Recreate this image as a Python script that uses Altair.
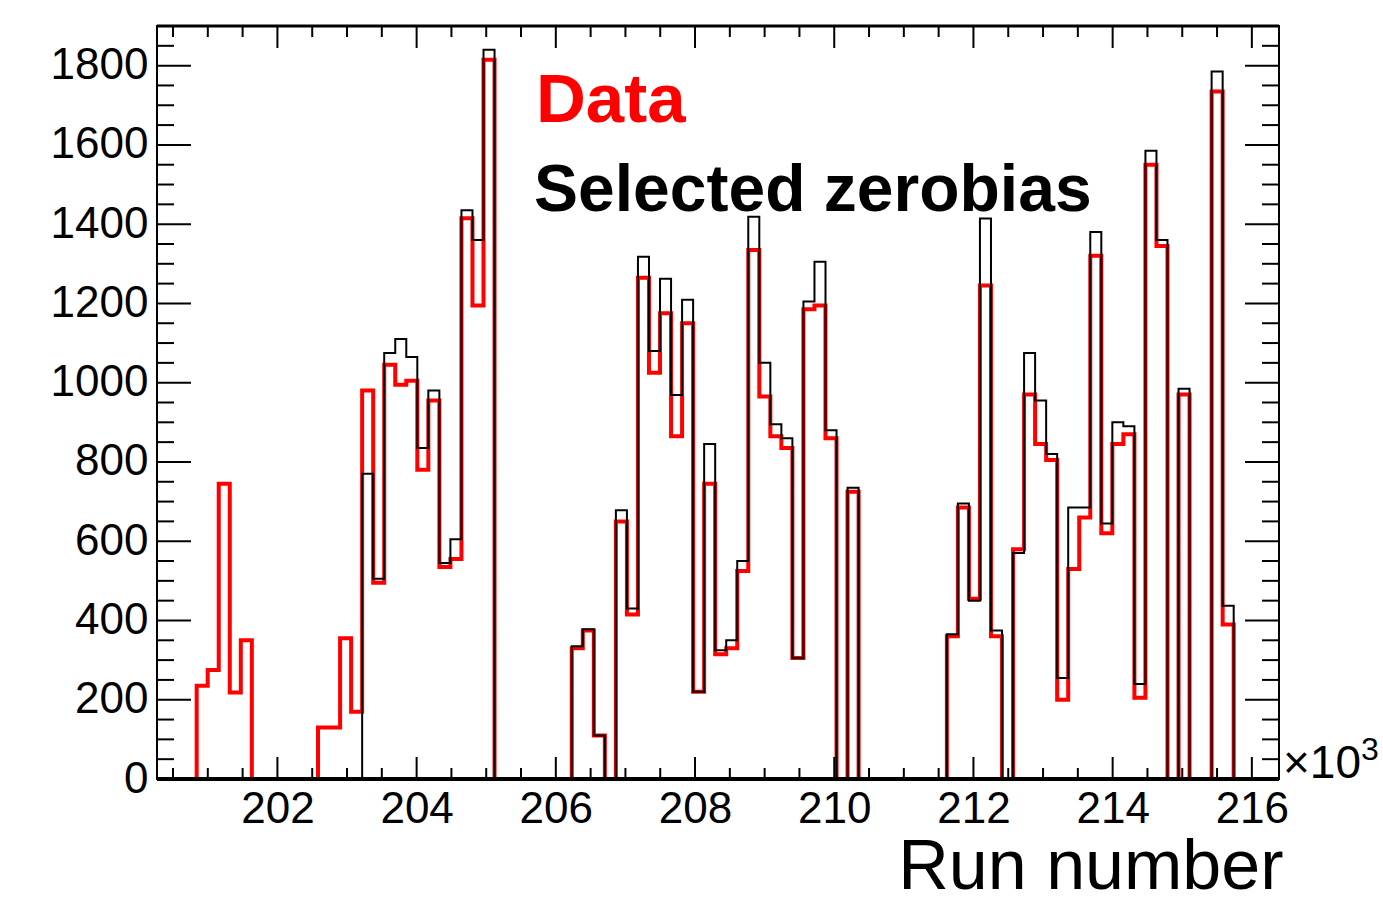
import altair as alt
import pandas as pd

# Histogram binning (run number in units of 10^3)
first_edge = 200.84     # low edge of first filled bin
bin_width = 0.1585
x_lo, x_hi = 200.27, 216.39
y_lo, y_hi = 0, 1900

# "Data" (red) entries per bin
data_counts = [
    235, 275, 745, 218, 350, 0, 0, 0, 0, 0,
    0, 130, 130, 355, 170, 980, 495, 1045, 995, 1005,
    780, 955, 535, 555, 1415, 1195, 1815, 0, 0, 0,
    0, 0, 0, 0, 330, 375, 110, 0, 650, 415,
    1265, 1025, 1175, 865, 1150, 220, 745, 315, 330, 525,
    1335, 965, 865, 835, 305, 1185, 1195, 860, 0, 725,
    0, 0, 0, 0, 0, 0, 0, 0, 360, 685,
    455, 1245, 360, 0, 580, 970, 845, 805, 200, 530,
    660, 1320, 620, 845, 870, 205, 1550, 1345, 0, 970,
    0, 0, 1735, 390,
]

# "Selected zerobias" (black) entries per bin
zerobias_counts = [
    0, 0, 0, 0, 0, 0, 0, 0, 0, 0,
    0, 0, 0, 0, 0, 770, 505, 1075, 1110, 1065,
    835, 980, 545, 605, 1435, 1360, 1840, 0, 0, 0,
    0, 0, 0, 0, 335, 378, 110, 0, 678, 430,
    1318, 1080, 1262, 969, 1209, 220, 845, 325, 350, 550,
    1419, 1050, 895, 860, 305, 1205, 1305, 880, 0, 735,
    0, 0, 0, 0, 0, 0, 0, 0, 365, 695,
    450, 1414, 375, 0, 570, 1075, 955, 820, 255, 685,
    685, 1380, 645, 900, 890, 240, 1585, 1360, 0, 985,
    0, 0, 1785, 437,
]

x_major = [202, 204, 206, 208, 210, 212, 214, 216]
x_minor = [200.5 + 0.5 * k for k in range(32) if (200.5 + 0.5 * k) not in x_major]
y_major = [0, 200, 400, 600, 800, 1000, 1200, 1400, 1600, 1800]
y_minor = [v for v in range(50, 1900, 50) if v not in y_major]

W, H = 1122, 753
FONT = "Liberation Sans"


def hist_rows(counts, name):
    n = len(counts)
    edges = [first_edge + i * bin_width for i in range(n + 1)]
    rows = [{"series": name, "x": x_lo, "y": 0}]
    for i in range(n):
        rows.append({"series": name, "x": edges[i], "y": counts[i]})
    rows.append({"series": name, "x": edges[n], "y": 0})
    rows.append({"series": name, "x": x_hi, "y": 0})
    return pd.DataFrame(rows)


red_df = hist_rows(data_counts, "Data")
blk_df = hist_rows(zerobias_counts, "Selected zerobias")

xscale = alt.Scale(domain=[x_lo, x_hi], nice=False, zero=False)
yscale = alt.Scale(domain=[y_lo, y_hi], nice=False)

xaxis = alt.Axis(values=x_major, format="d", labelFontSize=44, labelFont=FONT, tickSize=0,
                 domain=False, grid=False, labelPadding=8, labelColor="black",
                 title="Run number", titleFont=FONT, titleFontSize=70,
                 titleFontWeight="normal", titleAnchor="end", titleAlign="right",
                 titleX=W + 4, titleY=109, titleBaseline="alphabetic", titleColor="black",
                 labelFlush=False)
yaxis = alt.Axis(values=y_major, format="d", labelFontSize=44, labelFont=FONT, tickSize=0,
                 domain=False, grid=False, labelPadding=9, labelColor="black",
                 title=None, labelFlush=False)

red = alt.Chart(red_df).mark_line(interpolate="step-after", color="#ff0000",
                                  strokeWidth=4, clip=True).encode(
    x=alt.X("x:Q", scale=xscale, axis=xaxis),
    y=alt.Y("y:Q", scale=yscale, axis=yaxis),
)
blk = alt.Chart(blk_df).mark_line(interpolate="step-after", color="black",
                                  strokeWidth=2, clip=True).encode(
    x=alt.X("x:Q", scale=xscale),
    y=alt.Y("y:Q", scale=yscale),
)

xmaj_df = pd.DataFrame({"t": x_major})
xmin_df = pd.DataFrame({"t": x_minor})
ymaj_df = pd.DataFrame({"t": y_major})
ymin_df = pd.DataFrame({"t": y_minor})


def xticks(df, length):
    bottom = alt.Chart(df).mark_rule(color="black", strokeWidth=2).encode(
        x=alt.X("t:Q", scale=xscale), y=alt.value(H), y2=alt.value(H - length))
    top = alt.Chart(df).mark_rule(color="black", strokeWidth=2).encode(
        x=alt.X("t:Q", scale=xscale), y=alt.value(0), y2=alt.value(length))
    return bottom + top


def yticks(df, length):
    left = alt.Chart(df).mark_rule(color="black", strokeWidth=2).encode(
        y=alt.Y("t:Q", scale=yscale), x=alt.value(0), x2=alt.value(length))
    right = alt.Chart(df).mark_rule(color="black", strokeWidth=2).encode(
        y=alt.Y("t:Q", scale=yscale), x=alt.value(W), x2=alt.value(W - length))
    return left + right


one = pd.DataFrame({"a": [0]})
frame = alt.Chart(one).mark_rect(fill=None, stroke="black", strokeWidth=2).encode(
    x=alt.value(0), x2=alt.value(W), y=alt.value(0), y2=alt.value(H))
bottom_line = alt.Chart(one).mark_rule(color="black", strokeWidth=4).encode(
    x=alt.value(0), x2=alt.value(W), y=alt.value(H))
top_line = alt.Chart(one).mark_rule(color="black", strokeWidth=3).encode(
    x=alt.value(0), x2=alt.value(W), y=alt.value(0))

lbl_data = alt.Chart(one).mark_text(text="Data", font=FONT, fontSize=69, fontWeight="bold",
                                    color="#ff0000", align="left", baseline="alphabetic").encode(
    x=alt.value(379), y=alt.value(96))
lbl_zb = alt.Chart(one).mark_text(text="Selected zerobias", font=FONT, fontSize=66,
                                  fontWeight="bold", color="black", align="left",
                                  baseline="alphabetic").encode(
    x=alt.value(377), y=alt.value(185))
exp_main = alt.Chart(one).mark_text(text="×10", font=FONT, fontSize=46, color="black",
                                    align="left", baseline="alphabetic").encode(
    x=alt.value(W + 4), y=alt.value(752))
exp_sup = alt.Chart(one).mark_text(text="3", font=FONT, fontSize=32, color="black",
                                   align="left", baseline="alphabetic").encode(
    x=alt.value(W + 82), y=alt.value(734))

chart = alt.layer(
    red, blk,
    xticks(xmaj_df, 22), xticks(xmin_df, 11),
    yticks(ymaj_df, 34), yticks(ymin_df, 17),
    frame, bottom_line, top_line,
    lbl_data, lbl_zb, exp_main, exp_sup,
).properties(
    width=W, height=H,
    autosize=alt.AutoSizeParams(type="none"),
    padding={"left": 157, "top": 26, "right": 104, "bottom": 125},
).configure_view(strokeWidth=0).configure(background="white")

chart.save("out.html", embed_options={"renderer": "svg", "actions": False})
